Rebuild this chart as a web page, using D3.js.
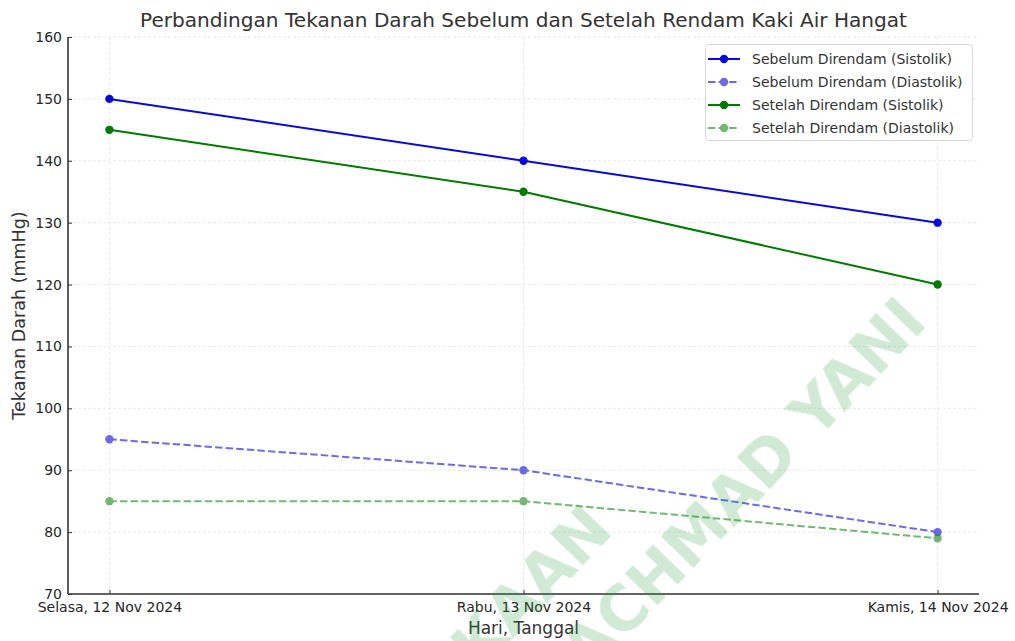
<!DOCTYPE html>
<html>
<head>
<meta charset="utf-8">
<script src="https://cdn.jsdelivr.net/npm/d3@7/dist/d3.min.js"></script>
<style>
  html, body { margin: 0; padding: 0; background: #fff; }
  svg { display: block; font-family: "DejaVu Sans", sans-serif; }
</style>
</head>
<body>
<svg id="chart" width="1015" height="641"></svg>
<script>
// ---- data ----
const categories = ["Selasa, 12 Nov 2024", "Rabu, 13 Nov 2024", "Kamis, 14 Nov 2024"];
const seriesNames = [
  "Sebelum Direndam (Sistolik)",
  "Sebelum Direndam (Diastolik)",
  "Setelah Direndam (Sistolik)",
  "Setelah Direndam (Diastolik)"
];
const sebelumSistolik = [150, 140, 130];
const sebelumDiastolik = [95, 90, 80];
const setelahSistolik = [145, 135, 120];
const setelahDiastolik = [85, 85, 79];
const yTicks = [70, 80, 90, 100, 110, 120, 130, 140, 150, 160];
const titleText = "Perbandingan Tekanan Darah Sebelum dan Setelah Rendam Kaki Air Hangat";
const xLabel = "Hari, Tanggal";
const yLabel = "Tekanan Darah (mmHg)";
const watermarkLines = ["KAAN", "ACHMAD YANI"];

const series = [
  { name: seriesNames[0], values: sebelumSistolik, color: "#0a0ad8", dashed: false, alpha: 1 },
  { name: seriesNames[1], values: sebelumDiastolik, color: "#0a0ad8", dashed: true, alpha: 0.6 },
  { name: seriesNames[2], values: setelahSistolik, color: "#007a00", dashed: false, alpha: 1 },
  { name: seriesNames[3], values: setelahDiastolik, color: "#168a16", dashed: true, alpha: 0.6 }
];

// ---- layout ----
const svg = d3.select("#chart");
const pL = 68, pR = 979, pT = 37, pB = 594;

const x = d3.scalePoint().domain(categories).range([pL, pR]).padding(0.1);
const y = d3.scaleLinear().domain([70, 160]).range([pB, pT]);

// grid
const grid = svg.append("g");
grid.selectAll("line.hg").data(yTicks).join("line")
  .attr("x1", pL).attr("x2", pR)
  .attr("y1", d => y(d)).attr("y2", d => y(d))
  .attr("stroke", "#e2e2e2").attr("stroke-width", 0.8).attr("stroke-dasharray", "3,2");
grid.selectAll("line.vg").data(categories).join("line")
  .attr("x1", d => x(d)).attr("x2", d => x(d))
  .attr("y1", pT).attr("y2", pB)
  .attr("stroke", "#e2e2e2").attr("stroke-width", 0.8).attr("stroke-dasharray", "3,2");

// series
const line = d3.line().x((d, i) => x(categories[i])).y(d => y(d));
series.forEach(s => {
  const g = svg.append("g").attr("opacity", s.alpha);
  g.append("path").datum(s.values)
    .attr("d", line).attr("fill", "none")
    .attr("stroke", s.color).attr("stroke-width", 2)
    .attr("stroke-dasharray", s.dashed ? "7.4,3.2" : null);
  g.selectAll("circle").data(s.values).join("circle")
    .attr("cx", (d, i) => x(categories[i])).attr("cy", d => y(d))
    .attr("r", 4.2).attr("fill", s.color);
});

// axes
const yAxis = d3.axisLeft(y).tickValues(yTicks).tickSizeInner(-4).tickSizeOuter(0).tickPadding(6);
const xAxis = d3.axisBottom(x).tickSizeInner(-4).tickSizeOuter(0).tickPadding(8);

const gy = svg.append("g").attr("transform", `translate(${pL},0)`).call(yAxis);
const gx = svg.append("g").attr("transform", `translate(0,${pB})`).call(xAxis);
[gx, gy].forEach(g => {
  g.select(".domain").attr("stroke", "#333").attr("stroke-width", 1.6);
  g.selectAll(".tick line").attr("stroke", "#333").attr("stroke-width", 1);
  g.selectAll(".tick text").attr("fill", "#262626").attr("font-size", 14)
    .attr("font-family", "DejaVu Sans, sans-serif");
});
gx.select(".domain").attr("d", `M${pL},0H${pR}`);
gy.select(".domain").attr("d", `M0,${pB}V${pT}`);

// title & labels
svg.append("text").attr("x", (pL + pR) / 2).attr("y", 27)
  .attr("text-anchor", "middle").attr("font-size", 19.5).attr("fill", "#333")
  .attr("textLength", 767).attr("lengthAdjust", "spacingAndGlyphs")
  .text(titleText);
svg.append("text").attr("x", (pL + pR) / 2).attr("y", 634)
  .attr("text-anchor", "middle").attr("font-size", 17).attr("fill", "#333")
  .text(xLabel);
svg.append("text")
  .attr("transform", `translate(25,${(pT + pB) / 2}) rotate(-90)`)
  .attr("text-anchor", "middle").attr("font-size", 17.5).attr("fill", "#333")
  .text(yLabel);

// legend
const lg = svg.append("g");
lg.append("rect").attr("x", 705.5).attr("y", 44.5).attr("width", 267).attr("height", 96)
  .attr("rx", 3).attr("fill", "#fff").attr("fill-opacity", 0.85)
  .attr("stroke", "#d6d6d6").attr("stroke-width", 1);
series.forEach((s, i) => {
  const cy = 59 + i * 23;
  const row = lg.append("g").attr("opacity", s.alpha);
  row.append("line").attr("x1", 708).attr("x2", 740).attr("y1", cy).attr("y2", cy)
    .attr("stroke", s.color).attr("stroke-width", 2)
    .attr("stroke-dasharray", s.dashed ? "7.4,3.2" : null);
  row.append("circle").attr("cx", 724).attr("cy", cy).attr("r", 4.2).attr("fill", s.color);
  lg.append("text").attr("x", 752).attr("y", cy).attr("dy", "0.35em")
    .attr("font-size", 14).attr("fill", "#333").text(s.name);
});

// watermark
const wm = svg.append("g").attr("fill", "#2f9e3f").attr("opacity", 0.22)
  .attr("font-weight", "bold").attr("font-size", 62);
const wmAnchors = [[615, 532], [929, 324]];
watermarkLines.forEach((t, i) => {
  wm.append("text")
    .attr("transform", `translate(${wmAnchors[i][0]},${wmAnchors[i][1]}) rotate(-46)`)
    .attr("text-anchor", "end").text(t);
});
</script>
</body>
</html>
